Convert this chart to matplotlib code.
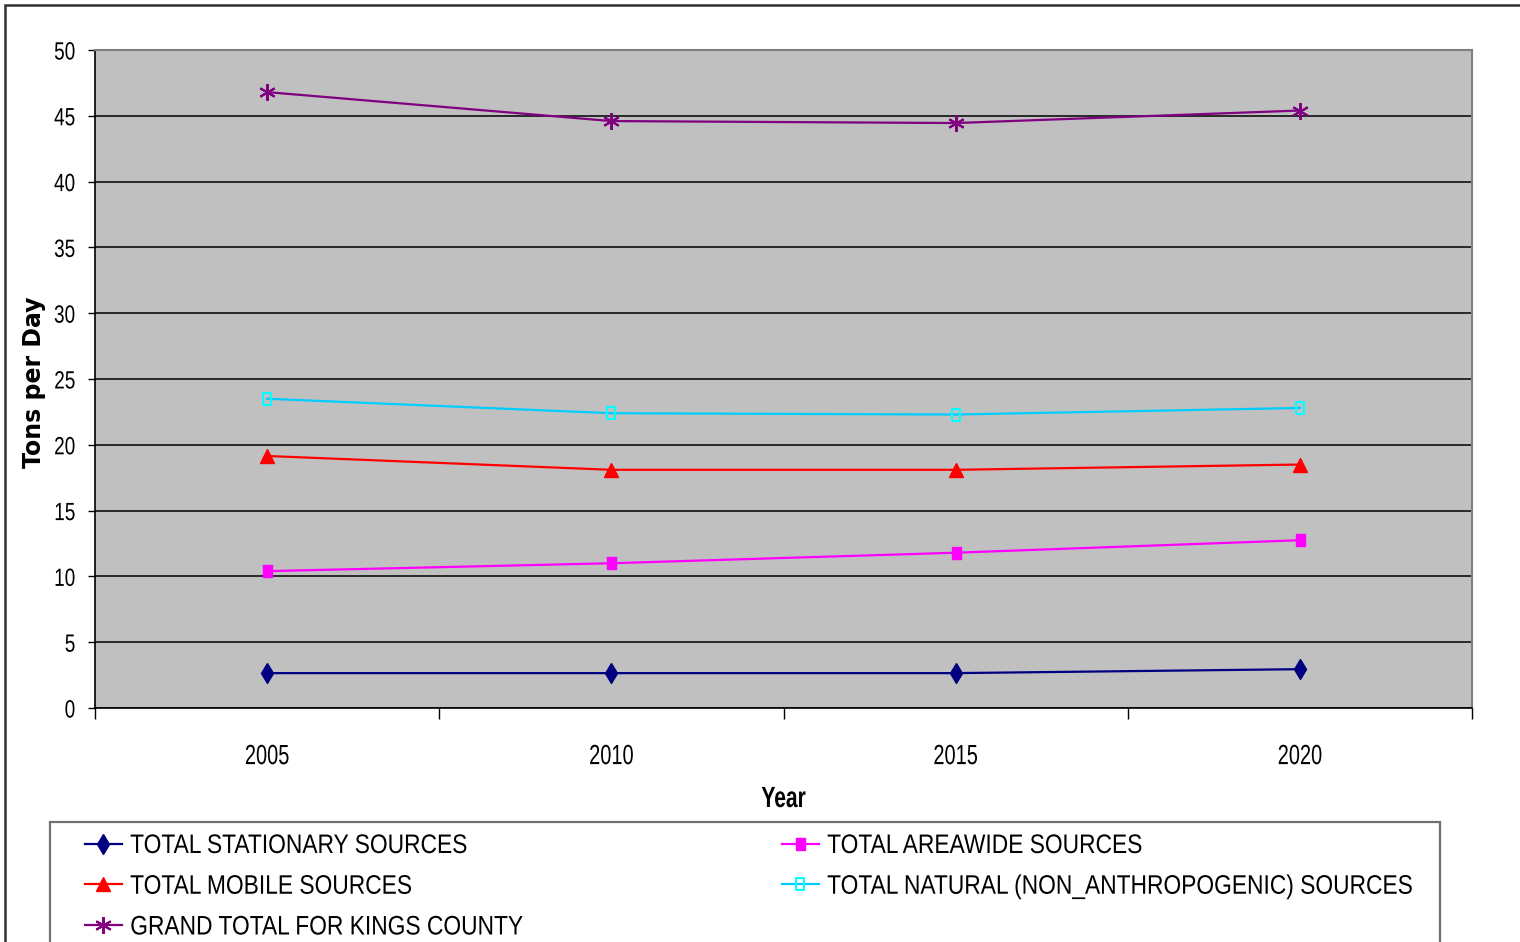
import matplotlib
matplotlib.use("Agg")
import matplotlib.pyplot as plt
from matplotlib.patches import Rectangle
from matplotlib.patheffects import AbstractPathEffect
from matplotlib.ticker import FixedLocator
from matplotlib.transforms import Affine2D

years = ["2005", "2010", "2015", "2020"]
stationary = [2.65, 2.65, 2.65, 2.95]
areawide = [10.4, 11.0, 11.8, 12.75]
mobile = [19.15, 18.1, 18.1, 18.5]
natural = [23.5, 22.4, 22.3, 22.8]
grand_total = [46.8, 44.6, 44.45, 45.4]

y_ticks = [0, 5, 10, 15, 20, 25, 30, 35, 40, 45, 50]

FONT = ["Liberation Sans", "DejaVu Sans"]
W, H = 1520, 942


class Condensed(AbstractPathEffect):
    """Squeeze text horizontally (the original uses a narrow font)."""

    def __init__(self, sx=0.75, anchor="left"):
        super().__init__()
        self.sx = sx
        self.anchor = anchor

    def draw_path(self, renderer, gc, tpath, affine, rgbFace=None):
        ext = tpath.get_extents()
        if self.anchor == "center":
            x0 = (ext.x0 + ext.x1) / 2
        elif self.anchor == "right":
            x0 = ext.x1
        else:
            x0 = ext.x0
        squeeze = Affine2D().translate(-x0, 0).scale(self.sx, 1).translate(x0, 0)
        renderer.draw_path(gc, tpath, squeeze + affine, rgbFace)


# tall narrow rectangle marker
rect = [(-0.72, -1), (0.72, -1), (0.72, 1), (-0.72, 1), (-0.72, -1)]

fig = plt.figure(figsize=(W / 100, H / 100), dpi=100)
ax = fig.add_axes([95 / W, 1 - 708 / H, (1472 - 95) / W, (708 - 50) / H])
ax.set_facecolor("#C0C0C0")

x = list(range(len(years)))

ax.plot(x, stationary, color="#000080", marker="d", markersize=10, lw=1.6,
        label="TOTAL STATIONARY SOURCES", zorder=5)
ax.plot(x, mobile, color="#FF0000", marker="^", markersize=10, lw=1.6,
        label="TOTAL MOBILE SOURCES", zorder=5)
ax.plot(x, grand_total, color="#800080", marker=(6, 2, 0), markersize=12, mew=1.5,
        lw=1.6, label="GRAND TOTAL FOR KINGS COUNTY", zorder=5)
ax.plot(x, areawide, color="#FF00FF", marker=rect, markersize=9, lw=1.6,
        label="TOTAL AREAWIDE SOURCES", zorder=5)
ax.plot(x, natural, color="#00CCFF", marker=rect, markersize=8, mfc="none",
        mec="#00FFFF", mew=1.5, lw=1.6,
        label="TOTAL NATURAL (NON_ANTHROPOGENIC) SOURCES", zorder=5)

ax.set_xlim(-0.5, len(years) - 0.5)
ax.set_ylim(0, 50)
ax.set_yticks(y_ticks)
ax.set_yticklabels([str(t) for t in y_ticks], fontfamily=FONT, fontsize=18)
ax.yaxis.grid(True, color="black", lw=1.1)
ax.set_axisbelow(True)

ax.set_xticks(x)
ax.set_xticklabels(years, fontfamily=FONT, fontsize=20)
ax.xaxis.set_minor_locator(FixedLocator([i - 0.5 for i in range(len(years) + 1)]))
ax.tick_params(axis="x", which="major", length=0, pad=26)
ax.tick_params(axis="x", which="minor", length=8, width=1, color="black")
ax.tick_params(axis="y", length=5, width=1, pad=9)

for lbl in ax.get_yticklabels():
    lbl.set_path_effects([Condensed(0.76, "right")])
for lbl in ax.get_xticklabels():
    lbl.set_path_effects([Condensed(0.72, "center")])

for side in ["top", "right"]:
    ax.spines[side].set_color("#808080")
    ax.spines[side].set_linewidth(1.5)
for side in ["left", "bottom"]:
    ax.spines[side].set_color("black")
    ax.spines[side].set_linewidth(1.2)

ax.set_ylabel("Tons per Day", fontfamily="DejaVu Sans", fontweight="bold",
              fontsize=17)
ax.yaxis.set_label_coords(-49 / (1472 - 95), (708 - 382) / (708 - 50))
ax.set_xlabel("Year", fontfamily=FONT, fontweight="bold", fontsize=21,
              path_effects=[Condensed(0.72, "center")])
ax.xaxis.set_label_coords(0.5, -(785 - 708) / (708 - 50))

# legend: two frameless columns inside one hand-drawn box
handles, labels = ax.get_legend_handles_labels()
leg_kw = dict(loc="upper left", prop={"family": FONT, "size": 19.3},
              handlelength=1.38, handletextpad=0.3, labelspacing=0.55,
              borderpad=0, borderaxespad=0, frameon=False)
leg1 = fig.legend(handles[:3], labels[:3], bbox_to_anchor=(85 / W, 1 - 833 / H), **leg_kw)
leg2 = fig.legend(handles[3:], labels[3:], bbox_to_anchor=(782 / W, 1 - 833 / H), **leg_kw)
for leg in (leg1, leg2):
    for t in leg.get_texts():
        t.set_path_effects([Condensed(0.85, "left")])

fig.patches.append(Rectangle((50 / W, -0.05), (1440 - 50) / W, 1 - 822 / H + 0.05,
                             transform=fig.transFigure, fill=False,
                             edgecolor="#707070", lw=1.6, clip_on=False))

# outer chart area border (cut off at the image edges)
fig.patches.append(Rectangle((5 / W, -0.1), 1.1, 1 - 5 / H + 0.1,
                             transform=fig.transFigure, fill=False,
                             edgecolor="#303030", lw=1.8, clip_on=False))

fig.savefig("out.png", dpi=100)
